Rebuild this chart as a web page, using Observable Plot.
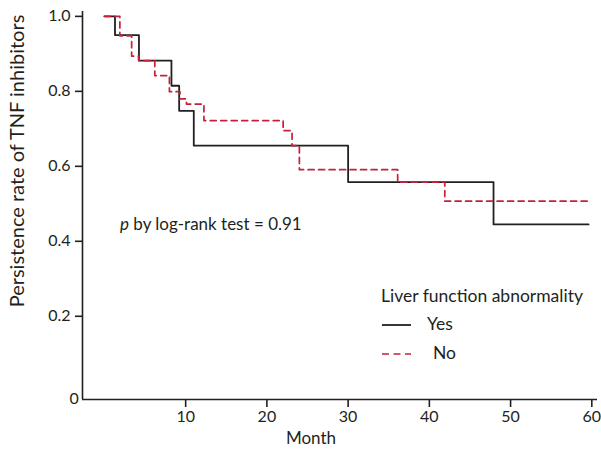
<!DOCTYPE html>
<html><head><meta charset="utf-8">
<script src="https://cdn.jsdelivr.net/npm/d3@7"></script>
<script src="https://cdn.jsdelivr.net/npm/@observablehq/plot@0.6"></script>
<style>body{margin:0;background:#fff}</style>
</head><body><div id="chart"></div>
<script>
// Kaplan–Meier style persistence curves (months, rate)
const yesMonths = [0, 1.3, 4.25, 8.25, 9.2, 11.0, 30.0, 47.9, 59.6];
const yesRates  = [1.0, 0.95, 0.882, 0.815, 0.748, 0.655, 0.558, 0.445, 0.445];
const noMonths  = [0, 1.9, 3.35, 4.2, 6.2, 8.0, 9.3, 10.1, 12.25, 22.0, 23.1, 24.0, 36.1, 41.9, 59.6];
const noRates   = [1.0, 0.948, 0.894, 0.882, 0.842, 0.799, 0.78, 0.766, 0.722, 0.695, 0.655, 0.591, 0.558, 0.507, 0.507];
const xTicks = [10, 20, 30, 40, 50, 60];
const yTicks = [0.2, 0.4, 0.6, 0.8, 1.0];
const xDomain = [-2.7, 60.7];
const yDomain = [-0.022, 1.013];
const groups = ["Yes", "No"];
const legendTitle = "Liver function abnormality";

const yes = yesMonths.map((m, i) => ({month: m, rate: yesRates[i], group: "Yes"}));
const no = noMonths.map((m, i) => ({month: m, rate: noRates[i], group: "No"}));

const ink = "#231f20";
const red = "#c4213a";
const font = "Lato, 'Open Sans', sans-serif";

const chart = Plot.plot({
  width: 601, height: 458,
  marginLeft: 82, marginRight: 4, marginTop: 11, marginBottom: 59,
  style: {fontFamily: font, fontSize: "16px", color: ink, background: "white"},
  x: {domain: xDomain},
  y: {domain: yDomain},
  marks: [
    Plot.ruleX([xDomain[0]], {stroke: ink, strokeWidth: 1.6}),
    Plot.ruleY([yDomain[0]], {stroke: ink, strokeWidth: 1.6}),
    Plot.axisX({ticks: xTicks, tickSize: 8, tickPadding: 3, label: null, stroke: ink, strokeWidth: 1.6}),
    Plot.axisY({ticks: yTicks, tickSize: 7, tickPadding: 5, tickFormat: d => d.toFixed(1), label: null, stroke: ink, strokeWidth: 1.6}),
    Plot.text([0], {frameAnchor: "bottom-left", text: d => String(d), dx: -13, dy: 4, fontSize: 16, fill: ink}),
    Plot.line(yes, {x: "month", y: "rate", curve: "step-after", stroke: ink, strokeWidth: 1.8}),
    Plot.line(no, {x: "month", y: "rate", curve: "step-after", stroke: red, strokeWidth: 1.7, strokeDasharray: "6,4.5"})
  ]
});
document.getElementById("chart").appendChild(chart);

const svg = d3.select(chart);
svg.append("text")
  .attr("transform", "translate(19,161) rotate(-90)")
  .attr("text-anchor", "middle").attr("dominant-baseline", "middle")
  .style("font-size", "20px").attr("fill", ink).attr("font-family", font)
  .text("Persistence rate of TNF inhibitors");
svg.append("text")
  .attr("x", 311).attr("y", 440)
  .attr("text-anchor", "middle").attr("dominant-baseline", "middle")
  .style("font-size", "17px").attr("fill", ink).attr("font-family", font)
  .text("Month");
const pt = svg.append("text")
  .attr("x", 120).attr("y", 226)
  .attr("text-anchor", "start")
  .attr("dominant-baseline", "middle")
  .style("font-size", "17px").attr("fill", ink).attr("font-family", font);
pt.append("tspan").attr("font-style", "italic").text("p");
pt.append("tspan").text(" by log-rank test = 0.91");

const lg = svg.append("g").attr("font-family", font).style("font-size", "17.5px").attr("fill", ink).attr("text-anchor", "start");
lg.append("text").attr("x", 381).attr("y", 298).attr("dominant-baseline", "middle").text(legendTitle);
const styles = [{stroke: ink, dash: null, w: 1.8, tx: 427}, {stroke: red, dash: "7,4.5", w: 1.7, tx: 433}];
groups.forEach((g, i) => {
  const yy = 325 + i * 29;
  lg.append("line").attr("x1", 382).attr("x2", 411).attr("y1", yy).attr("y2", yy)
    .attr("stroke", styles[i].stroke).attr("stroke-width", styles[i].w)
    .attr("stroke-dasharray", styles[i].dash);
  lg.append("text").attr("x", styles[i].tx).attr("y", yy + 1).attr("dominant-baseline", "middle").text(g);
});
</script>
</body></html>
